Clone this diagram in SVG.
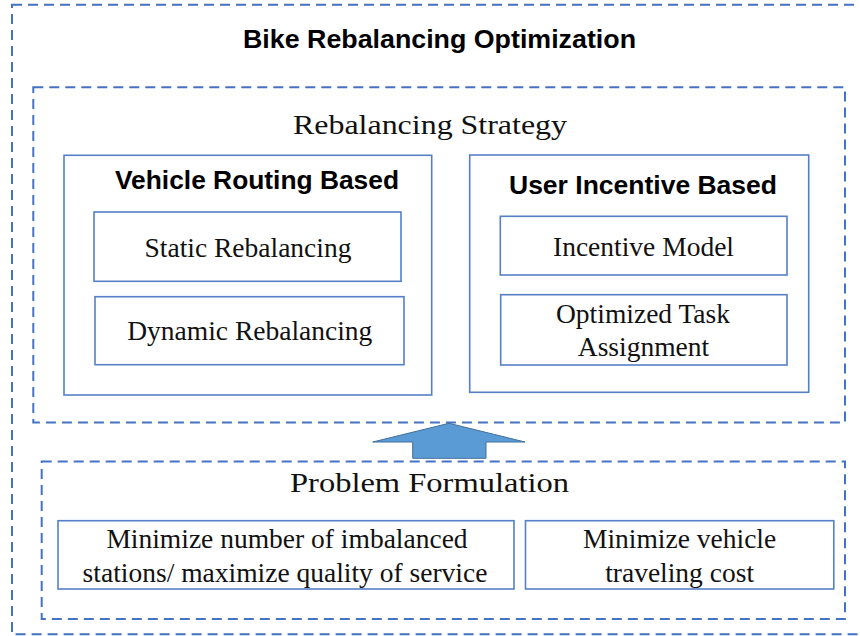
<svg xmlns="http://www.w3.org/2000/svg" width="860" height="636" viewBox="0 0 860 636">
<defs>
<style>
.dash{fill:none;stroke:#4472C4;stroke-width:2;stroke-dasharray:10 6}
.box{fill:#FFFFFF;stroke:#5580C6;stroke-width:1.6}
.bold{font-family:"Liberation Sans",Arial,sans-serif;font-weight:bold;font-size:26.5px;fill:#000}
.serif{font-family:"Liberation Serif","Times New Roman",serif;font-size:27.5px;fill:#111}
.head{font-family:"Liberation Serif","Times New Roman",serif;font-size:28px;fill:#111}
</style>
</defs>
<rect width="860" height="636" fill="#FFFFFF"/>
<g id="bike-rebalancing-optimization">
<rect class="dash" x="12" y="4.7" width="860" height="629.6"/>
<text class="bold" x="439.5" y="48" text-anchor="middle" textLength="393" lengthAdjust="spacingAndGlyphs">Bike Rebalancing Optimization</text>
</g>
<g id="rebalancing-strategy">
<rect class="dash" x="33.3" y="87.3" width="811.7" height="335.2"/>
<text class="head" x="430" y="133.5" text-anchor="middle" textLength="274" lengthAdjust="spacingAndGlyphs">Rebalancing Strategy</text>
</g>
<g id="vehicle-routing-based">
<rect class="box" x="64" y="155.3" width="367.7" height="239.7"/>
<text class="bold" x="257" y="189.3" text-anchor="middle" textLength="284" lengthAdjust="spacingAndGlyphs">Vehicle Routing Based</text>
</g>
<g id="static-rebalancing">
<rect class="box" x="94" y="212" width="307" height="69.3"/>
<text class="serif" x="248" y="256.7" text-anchor="middle">Static Rebalancing</text>
</g>
<g id="dynamic-rebalancing">
<rect class="box" x="95" y="296.7" width="309" height="68"/>
<text class="serif" x="249.8" y="340" text-anchor="middle">Dynamic Rebalancing</text>
</g>
<g id="user-incentive-based">
<rect class="box" x="469.7" y="155" width="339" height="237.3"/>
<text class="bold" x="643" y="194.3" text-anchor="middle" textLength="268" lengthAdjust="spacingAndGlyphs">User Incentive Based</text>
</g>
<g id="incentive-model">
<rect class="box" x="500.3" y="216.3" width="286.7" height="58.7"/>
<text class="serif" x="643.5" y="256" text-anchor="middle">Incentive Model</text>
</g>
<g id="optimized-task-assignment">
<rect class="box" x="500.7" y="294.7" width="286.3" height="70.3"/>
<text class="serif" x="643" y="323.3" text-anchor="middle">Optimized Task</text>
<text class="serif" x="643.5" y="356" text-anchor="middle">Assignment</text>
</g>
<g id="problem-formulation">
<rect class="dash" x="41.7" y="461.5" width="803.3" height="157.5"/>
<text class="head" x="429.5" y="491.5" text-anchor="middle" textLength="279" lengthAdjust="spacingAndGlyphs">Problem Formulation</text>
</g>
<g id="minimize-imbalanced">
<rect class="box" x="58" y="520.7" width="456" height="68.3"/>
<text class="serif" x="287" y="548.3" text-anchor="middle">Minimize number of imbalanced</text>
<text class="serif" x="285" y="581.7" text-anchor="middle">stations/ maximize quality of service</text>
</g>
<g id="minimize-cost">
<rect class="box" x="525.5" y="520.7" width="308.3" height="68.3"/>
<text class="serif" x="679.6" y="548.3" text-anchor="middle">Minimize vehicle</text>
<text class="serif" x="679.6" y="581.7" text-anchor="middle">traveling cost</text>
</g>
<g id="connectors">
<polygon points="449,423.3 525,442 486,442 486,458.3 412.7,458.3 412.7,442 372.7,442" fill="#5B9BD5" stroke="#41719C" stroke-width="1"/>
</g>
</svg>
